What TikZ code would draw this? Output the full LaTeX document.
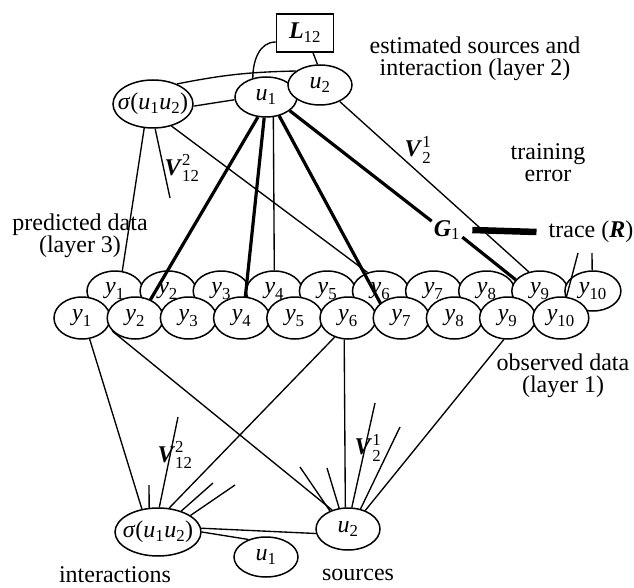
\documentclass[tikz,border=0pt]{standalone}
\usepackage{amsmath}
\usepackage{fontspec}
\setmainfont{Liberation Serif}
\usetikzlibrary{shapes.geometric}
\newcommand{\zw}[1]{\makebox[0pt]{#1}}
\newcommand{\bi}[1]{\textbf{\textit{#1}}}
\begin{document}
\begin{tikzpicture}[x=1pt,y=-1pt,font=\fontsize{24}{22}\selectfont,
  ellshape/.style={ellipse,inner sep=0pt},
  ell/.style={ellshape,draw,fill=white,line width=1.5pt},
  yshape/.style={ellshape,minimum width=56pt,minimum height=41pt},
  yell/.style={ell,minimum width=56pt,minimum height=41pt},
  thinl/.style={line width=1.35pt},
  heavy/.style={line width=3.2pt},
  txt/.style={align=center,inner sep=0pt}]
\useasboundingbox (0,0) rectangle (634,588);
% layer 3 (predicted)
\foreach \i in {1,...,10} {
  \node[yell,minimum height=40pt] (p\i) at ({115+53.1*(\i-1)},291) {\zw{$\textit{y}_{\text{\i}}$}};
}
% layer 1 shapes (names only)
\foreach \i in {1,...,10} {
  \node[yshape,minimum height=42pt] (o\i) at ({82+53.2*(\i-1)},318) {};
}
% layer 2 nodes
\node[ell,minimum width=80pt,minimum height=48pt] (s) at (153,104) {\zw{\textit{σ}(\textit{u}$_{\text{1}}$\textit{u}$_{\text{2}}$)}};
\node[ell,minimum width=62pt,minimum height=40pt] (u1) at (266,97) {\zw{$\textit{u}_{\text{1}}$}};
\node[ell,minimum width=64pt,minimum height=40pt] (u2) at (320,85) {\zw{$\textit{u}_{\text{2}}$}};
\node[draw,line width=1.5pt,minimum width=57pt,minimum height=38pt,inner sep=0pt] (L) at (305,33) {$\bi{L}_{\text{12}}$};
\node[inner sep=2pt] (G) at (447,230) {$\bi{G}_{\text{1}}$};
\node[inner sep=0pt] (T) at (591,232) {trace (\bi{R})};
\node[inner sep=0pt] (V21t) at (418,150) {$\bi{V}^{\text{1}}_{\text{2}}$};
\node[inner sep=0pt] (V12t) at (182,168) {$\bi{V}^{\text{2}}_{\text{12}}$};
\node[txt] (est) at (475,59) {estimated sources and\\interaction (layer 2)};
\node[txt] (tre) at (548,163) {training\\error};
\node[txt] (pred) at (80,236) {predicted data\\(layer 3)};
\node[txt] (obs) at (563,376) {observed data\\(layer 1)};
\coordinate (v12e) at (170,198);
\coordinate (r1) at (578,253);
\coordinate (r2) at (592,253);
% layer 2 connectors
\draw[thinl] (s.40) to[bend left=5] (u2.150);
\draw[thinl] (s.-3) -- (u1.185);
\draw[thinl] ([yshift=-9pt]L.west) to[out=180,in=90] (u1.125);
\draw[thinl] ([xshift=8pt]L.south) -- (u2.97);
\draw[heavy] (u1.-112) -- (o2.50);
\draw[heavy] (u1.-95) -- (o4.80);
\draw[thinl] (u1.-70) -- (p4.north);
\draw[heavy] (u1.-55) -- (o7.145);
\draw[heavy] (u1.-30) -- (G.150);
\draw[heavy] (G.-25) -- (p9.155);
\draw[line width=6.5pt] ([xshift=10pt]G.east) -- ([xshift=-12pt]T.west);
\draw[thinl] (u2.-40) -- (p9.120);
\draw[thinl] (s.-110) -- (p1.70);
\draw[thinl] (s.-85) -- (v12e);
\draw[thinl] (s.-50) -- (p6.125);
\draw[thinl] (r1) -- (o10.75);
\draw[thinl] (r2) -- (p10.92);
% layer 1 (observed)
\foreach \i in {1,...,10} {
  \node[yell,minimum height=42pt] (o\i) at ({82+53.2*(\i-1)},318) {\zw{$\textit{y}_{\text{\i}}$}};
}
% bottom network
\node[ell,minimum width=86pt,minimum height=48pt] (sb) at (158,532) {\zw{\textit{σ}(\textit{u}$_{\text{1}}$\textit{u}$_{\text{2}}$)}};
\node[ell,minimum width=64pt,minimum height=40pt] (u1b) at (266,557) {\zw{$\textit{u}_{\text{1}}$}};
\node[ell,minimum width=64pt,minimum height=42pt] (u2b) at (348,529) {\zw{$\textit{u}_{\text{2}}$}};
\node[inner sep=0pt] (V12b) at (175,455) {$\bi{V}^{\text{2}}_{\text{12}}$};
\node[inner sep=0pt] (V21b) at (368,448) {$\bi{V}^{\text{1}}_{\text{2}}$};
\node[inner sep=0pt,anchor=base] (inter) at (115,582) {interactions};
\node[txt] (src) at (358,575) {sources};
\coordinate (b1) at (149,485);
\coordinate (b2) at (178,417);
\coordinate (b3) at (213,483);
\coordinate (b4) at (235,485);
\coordinate (c1) at (300,467);
\coordinate (c2) at (327,468);
\coordinate (c3) at (375,403);
\coordinate (c4) at (400,427);
\draw[thinl] (o1.-70) -- (sb.125);
\draw[thinl] (o6.-125) -- (sb.65);
\draw[thinl] (b1) -- (sb.110);
\draw[thinl] (b2) -- (sb.87);
\draw[thinl] (b3) -- (sb.42);
\draw[thinl] (b4) -- (sb.27);
\draw[thinl] (o2.-150) -- (u2b.130);
\draw[thinl] (o6.-100) -- (u2b.97);
\draw[thinl] (o9.-100) -- (u2b.47);
\draw[thinl] (c1) -- (u2b.135);
\draw[thinl] (c2) -- (u2b.113);
\draw[thinl] (c3) -- (u2b.80);
\draw[thinl] (c4) -- (u2b.58);
\draw[thinl] (sb.5) -- (u2b.188);
\draw[thinl] (sb.0) -- (u1b.135);
\end{tikzpicture}
\end{document}
